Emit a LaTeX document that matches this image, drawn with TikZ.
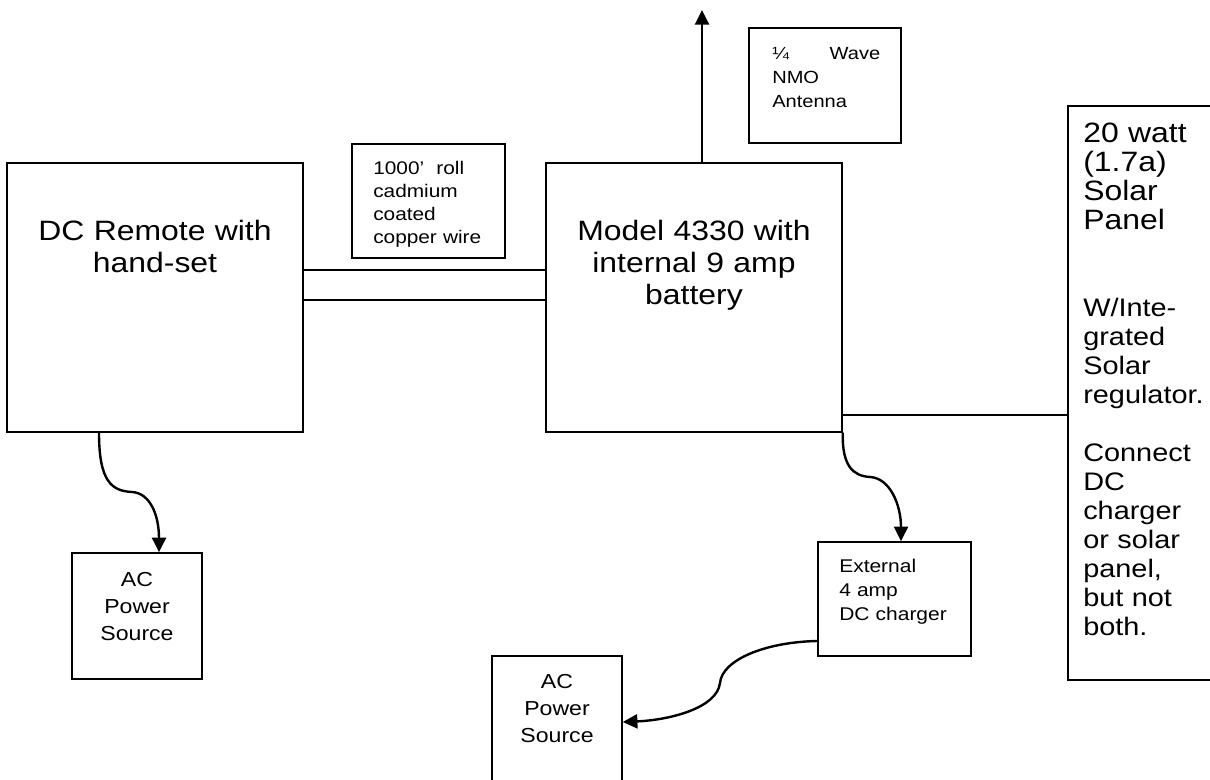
\documentclass[tikz,border=0pt]{standalone}
\usepackage{fontspec}
\setmainfont{Liberation Sans}[FakeStretch=1.14]
\usetikzlibrary{arrows.meta,calc}
\begin{document}
\begin{tikzpicture}[x=0.75pt,y=-0.75pt,
  box/.style={draw,line width=1.1pt,inner sep=0pt,minimum width=#1},
  box/.default=10pt,
  wire/.style={line width=1.1pt},
  curve/.style={line width=1.8pt,-{Triangle[length=11pt,width=10.5pt]}},
  bigtxt/.style={font=\fontsize{21}{24}\selectfont,inner sep=0pt,align=center,text width=215pt,anchor=base},
  soltxt/.style={font=\fontsize{21}{21.75}\selectfont,inner sep=0pt,align=left,text width=100pt,anchor=base west},
  subtxt/.style={font=\fontsize{19}{21.75}\selectfont,inner sep=0pt,align=left,text width=100pt,anchor=base west},
  smalltxt/.style={font=\fontsize{13.8}{18}\selectfont,inner sep=0pt,align=left,anchor=base west},
  acttxt/.style={font=\fontsize{15.2}{20.25}\selectfont,inner sep=0pt,align=center,text width=90pt,anchor=base}]
\clip (0,0) rectangle (1210,780);
\fill[white] (0,0) rectangle (1210,780);

% boxes
\node[box=222pt,minimum height=201.75pt] (remote) at (155,297.5) {};
\node[box=222pt,minimum height=201.75pt] (model) at (694,297.5) {};
\node[box=114.75pt,minimum height=85.5pt] (wirebox) at (428.5,201) {};
\node[box=114pt,minimum height=86.25pt] (antbox) at (825,85.5) {};
\node[box=121.5pt,minimum height=430.5pt] (solar) at (1149,393) {};
\node[box=114.75pt,minimum height=85.5pt] (charger) at (894.5,599) {};
\node[box=97.5pt,minimum height=94.5pt] (ac1) at (137,616) {};
\node[box=97.5pt,minimum height=100pt] (ac2) at (557,722.67) {};

% texts
\node[bigtxt] (remotetxt) at (155,241) {DC Remote with\\hand-set};
\node[bigtxt] (modeltxt) at (694,241) {Model 4330 with\\internal 9 amp\\battery};
\begin{scope}
  \clip (352,144) rectangle (505,250);
  \node[smalltxt,font=\fontsize{13.7}{17.25}\selectfont,text width=110pt] (wiretxt) at (373,175) {1000’\ \ roll\\cadmium\\coated\\copper wire};
\end{scope}
\node[smalltxt,font=\fontsize{13.2}{18}\selectfont,text width=81pt] (anttxt) at (772,60) {¼\hfill Wave\\NMO\\Antenna};
\node[soltxt] (soltitle) at (1083,143) {20 watt\\(1.7a)\\Solar\\Panel};
\node[subtxt] (solnote) at (1083,317) {W/Inte-\\grated\\Solar\\regulator.\\[21.75pt]Connect\\DC\\charger\\or solar\\panel,\\but not\\both.};
\node[smalltxt,text width=110pt] (chargertxt) at (839,572) {External\\4 amp\\DC charger};
\node[acttxt] (ac1txt) at (137,586) {AC\\Power\\Source};
\node[acttxt] (ac2txt) at (557,688) {AC\\Power\\Source};

% connectors
\coordinate (w1) at (420,270);
\coordinate (w2) at (420,300);
\draw[wire] (remote.east |- w1) -- (model.west |- w1);
\draw[wire] (remote.east |- w2) -- (model.west |- w2);

\coordinate (anttip) at (702,10);
\draw[line width=1.8pt,-{Triangle[length=11pt,width=10.5pt]}] (model.north -| anttip) -- (anttip);

\coordinate (solarlink) at (950,415);
\draw[wire] (model.east |- solarlink) -- (solar.west |- solarlink);

\coordinate (r1) at (99,432);
\draw[curve] (remote.south -| r1) .. controls (99,482) and (112,491) .. (132,492)
  .. controls (150,493) and (159,515) .. (ac1.north -| 159,0);

\draw[curve] (model.south east) .. controls (842,466) and (853,476) .. (870,477)
  .. controls (890,478) and (901,505) .. (charger.north -| 901,0);

\coordinate (c1) at (900,641);
\draw[curve] (charger.west |- c1) .. controls (765,642) and (722,660) .. (720,683)
  .. controls (717,708) and (670,720) .. (ac2.east |- 0,722);
\end{tikzpicture}
\end{document}
